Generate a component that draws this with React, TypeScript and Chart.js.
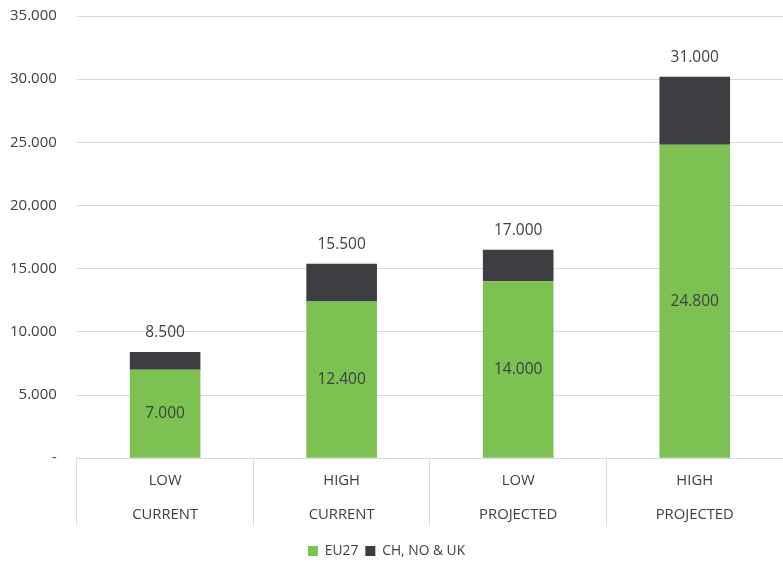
import React, { useEffect, useRef } from 'react';
import { Chart, registerables } from 'chart.js';

Chart.register(...registerables);

const scenarios = ['LOW', 'HIGH', 'LOW', 'HIGH'];
const periods = ['CURRENT', 'CURRENT', 'PROJECTED', 'PROJECTED'];
const eu27 = [7000, 12400, 14000, 24800];
const chNoUk = [1400, 3000, 2500, 5400];
const totalLabels = ['8.500', '15.500', '17.000', '31.000'];
const seriesNames = ['EU27', 'CH, NO & UK'];
const yMax = 35000;
const yStep = 5000;

const GREEN = '#7dc152';
const DARK = '#3c3e42';
const FONT = '"Open Sans", "Noto Sans", sans-serif';

function fmt(v: number): string {
  if (v === 0) return '-';
  return Math.round(v).toString().replace(/\B(?=(\d{3})+(?!\d))/g, '.');
}

const valueLabels = {
  id: 'valueLabels',
  afterDatasetsDraw(chart: any) {
    const ctx = chart.ctx;
    ctx.save();
    ctx.font = `15.5px ${FONT}`;
    ctx.fillStyle = '#404040';
    ctx.textAlign = 'center';
    ctx.textBaseline = 'middle';
    const mg = chart.getDatasetMeta(0);
    mg.data.forEach((bar: any, i: number) => {
      const p = bar.getProps(['x', 'y', 'base'], true);
      ctx.fillText(fmt(eu27[i]), p.x, (p.y + p.base) / 2);
    });
    const md = chart.getDatasetMeta(1);
    md.data.forEach((bar: any, i: number) => {
      const p = bar.getProps(['x', 'y'], true);
      ctx.fillText(totalLabels[i], p.x, p.y - 19);
    });
    // two-level category labels
    const xs = chart.scales.x;
    const bottom = chart.chartArea.bottom;
    ctx.font = `14.8px ${FONT}`;
    scenarios.forEach((s, i) => {
      const x = xs.getPixelForValue(i);
      ctx.fillText(s, x, bottom + 23);
      ctx.fillText(periods[i], x, bottom + 57);
    });
    ctx.restore();
  },
};

export default function App() {
  const ref = useRef<HTMLCanvasElement | null>(null);
  useEffect(() => {
    document.body.style.margin = '0';
    const chart = new Chart(ref.current as HTMLCanvasElement, {
      type: 'bar',
      data: {
        labels: scenarios.map((s, i) => s + ' ' + periods[i]),
        datasets: [
          { label: seriesNames[0], data: eu27, backgroundColor: GREEN, borderWidth: 0 },
          { label: seriesNames[1], data: chNoUk, backgroundColor: DARK, borderWidth: 0 },
        ],
      },
      options: {
        animation: false,
        responsive: false,
        maintainAspectRatio: false,
        layout: { padding: { top: 0, right: 0, left: -10, bottom: -5 } },
        datasets: { bar: { categoryPercentage: 1, barPercentage: 0.4 } },
        plugins: {
          legend: {
            position: 'bottom',
            labels: {
              font: { family: FONT, size: 13.8 },
              color: '#404040',
              boxWidth: 10,
              boxHeight: 10,
              padding: 7,
            },
          },
          tooltip: { enabled: false },
        },
        scales: {
          x: {
            stacked: true,
            border: { display: true, color: '#d9d9d9', width: 1 },
            grid: {
              display: true,
              offset: true,
              drawOnChartArea: false,
              drawTicks: true,
              tickLength: 67,
              color: '#d9d9d9',
            },
            ticks: { display: false },
            afterFit: (s: any) => {
              s.height += 12;
            },
          },
          y: {
            stacked: true,
            min: 0,
            max: yMax,
            border: { display: false },
            grid: { color: '#d9d9d9', drawTicks: false },
            ticks: {
              stepSize: yStep,
              padding: 20,
              color: '#404040',
              font: { family: FONT, size: 15 },
              callback: (v: any) => fmt(Number(v)),
            },
            afterFit: (s: any) => {
              s.paddingTop = 16;
            },
          },
        },
      },
      plugins: [valueLabels],
    } as any);
    return () => chart.destroy();
  }, []);
  return (
    <div style={{ width: 783, height: 563 }}>
      <canvas ref={ref} width={783} height={563} style={{ display: 'block' }} />
    </div>
  );
}
